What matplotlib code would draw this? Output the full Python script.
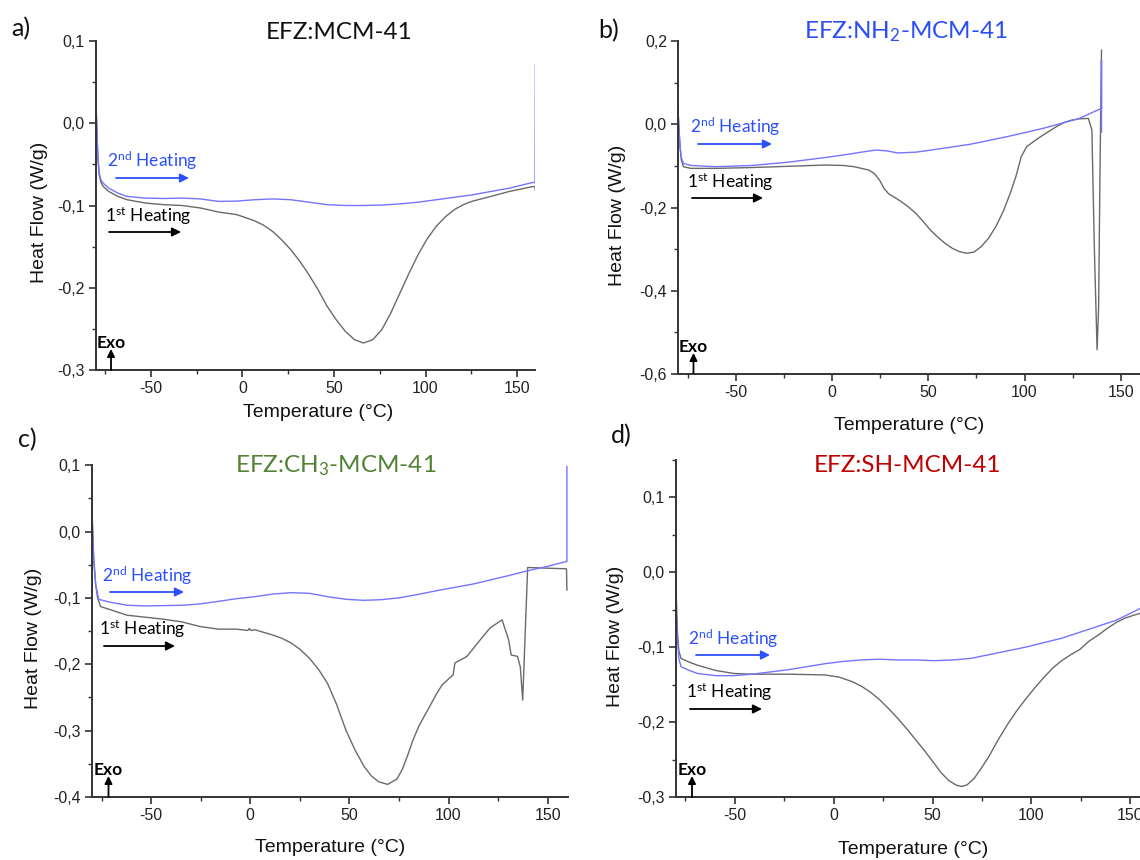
import matplotlib
matplotlib.use("Agg")
import matplotlib.pyplot as plt
from matplotlib.patches import FancyArrowPatch
from matplotlib.ticker import MultipleLocator, FuncFormatter

# ---------------- data (Temperature in °C, heat flow in W/g) ----------------
# a) EFZ:MCM-41
a_t1 = [-80, -79.5, -79, -78.3, -77.3, -76, -73, -68, -63, -53, -43, -33, -23, -13, -3.4,
        0, 6.6, 11.5, 16.5, 21.4, 26.4, 31.4, 36.3, 41.3, 46.3, 51.2, 56.2, 61.2, 66.1,
        71.1, 76.1, 81, 86, 91, 95.9, 100.9, 105.9, 110.8, 115.8, 120.8, 125.7, 135.6,
        145.6, 158.5, 159.8, 160]
a_h1 = [0.025, -0.01, -0.04, -0.062, -0.072, -0.077, -0.083, -0.089, -0.093, -0.097,
        -0.099, -0.100, -0.103, -0.108, -0.111, -0.1134, -0.1186, -0.1239, -0.1316,
        -0.1417, -0.1538, -0.1680, -0.1842, -0.2024, -0.2227, -0.2389, -0.2530, -0.2632,
        -0.2672, -0.2632, -0.2510, -0.2308, -0.2065, -0.1822, -0.1599, -0.1405, -0.1251,
        -0.1138, -0.1049, -0.0988, -0.0947, -0.089, -0.083, -0.077, -0.077, -0.082]
a_t2 = [-80, -79.5, -79, -78.3, -77.3, -76, -73, -68, -63, -53, -43, -33, -23, -13, -3.4,
        6.6, 16.5, 26.4, 36.3, 46.3, 56.2, 66.1, 76.1, 86, 95.9, 105.9, 115.8, 125.7,
        135.6, 145.6, 158.5, 159.8, 160]
a_h2 = [0.025, -0.01, -0.04, -0.060, -0.069, -0.073, -0.079, -0.085, -0.089, -0.091,
        -0.0915, -0.091, -0.092, -0.095, -0.0947, -0.093, -0.092, -0.093, -0.096, -0.099,
        -0.100, -0.100, -0.0995, -0.098, -0.096, -0.093, -0.090, -0.087, -0.083, -0.079,
        -0.072, -0.072, 0.071]

# b) EFZ:NH2-MCM-41
b_t1 = [-80, -79.5, -79, -78.3, -77.2, -73.4, -60.4, -41.5, -22.5, -3.6, 5.8, 11.5, 15.3,
        19.1, 21.9, 24.7, 27, 29.4, 32.3, 36, 39.8, 43.6, 47.4, 51.1, 54.9, 58.7, 62.5,
        66.2, 70, 73.8, 77.5, 81.3, 85.1, 88.9, 92.6, 95.5, 98.3, 101.1, 105.8, 109.6,
        113.4, 117.2, 121, 124.7, 128.5, 133.2, 135, 136.3, 137.7, 138.5, 139.2, 140]
b_h1 = [0.034, -0.01, -0.05, -0.085, -0.102, -0.106, -0.106, -0.104, -0.101, -0.098,
        -0.099, -0.102, -0.106, -0.110, -0.118, -0.134, -0.154, -0.167, -0.175, -0.186,
        -0.199, -0.214, -0.234, -0.254, -0.271, -0.286, -0.298, -0.306, -0.310, -0.307,
        -0.294, -0.274, -0.246, -0.210, -0.166, -0.126, -0.078, -0.054, -0.038, -0.026,
        -0.015, -0.004, 0.005, 0.010, 0.013, 0.014, -0.014, -0.30, -0.542, -0.44, -0.12,
        0.178]
b_t2 = [-80, -79.5, -79, -78.3, -77.2, -73.4, -60.4, -41.5, -22.5, -3.6, 5.8, 15.3,
        22.8, 28.5, 34.2, 43.6, 53, 71.9, 90.8, 109.6, 128.5, 139.4, 140, 140, 140]
b_h2 = [0.034, -0.01, -0.05, -0.080, -0.094, -0.099, -0.102, -0.099, -0.091, -0.080,
        -0.074, -0.067, -0.062, -0.064, -0.069, -0.067, -0.061, -0.048, -0.030, -0.010,
        0.014, 0.037, 0.037, 0.154, -0.019]

# c) EFZ:CH3-MCM-41
c_t1 = [-80, -79.5, -79, -78, -77, -75.5, -71.3, -62.1, -52.9, -43.8, -34.6, -25.4,
        -15.9, -6.8, -1.3, -0.5, 0.3, 2.4, 7, 11.5, 16.1, 20.7, 25.3, 29.9, 34.5, 39,
        43.6, 48.2, 52.8, 57.4, 61, 64.7, 69.3, 73.9, 76.6, 79.4, 82.1, 84.9, 87.6, 90.4,
        94, 96.8, 100.4, 102.3, 103.2, 109.3, 116, 121, 127, 130.3, 131.6, 134.8, 136.2,
        137.4, 139.9, 149, 159.1, 159.5, 159.7]
c_h1 = [0.043, 0.0, -0.04, -0.08, -0.10, -0.113, -0.117, -0.126, -0.129, -0.132, -0.136,
        -0.143, -0.147, -0.147, -0.149, -0.146, -0.149, -0.148, -0.152, -0.156, -0.161,
        -0.168, -0.178, -0.191, -0.208, -0.229, -0.261, -0.299, -0.329, -0.354, -0.368,
        -0.377, -0.381, -0.373, -0.359, -0.337, -0.314, -0.294, -0.279, -0.264, -0.244,
        -0.231, -0.221, -0.216, -0.198, -0.188, -0.163, -0.145, -0.133, -0.163, -0.186,
        -0.188, -0.204, -0.254, -0.054, -0.055, -0.056, -0.056, -0.088]
c_t2 = [-80, -79.5, -79, -78, -76.5, -71.3, -62.1, -52.9, -43.8, -34.6, -25.4, -15.9,
        -6.8, 2.4, 11.5, 20.7, 29.9, 39, 48.2, 57.4, 66.5, 75.7, 84.9, 94, 103.2, 112.4,
        121.5, 130.7, 139.9, 149, 159.5, 159.7, 159.7]
c_h2 = [0.043, 0.0, -0.04, -0.08, -0.102, -0.106, -0.111, -0.112, -0.1115, -0.111,
        -0.109, -0.105, -0.101, -0.098, -0.094, -0.092, -0.093, -0.098, -0.102, -0.1035,
        -0.1025, -0.0995, -0.0945, -0.089, -0.084, -0.079, -0.0725, -0.066, -0.059,
        -0.053, -0.045, -0.045, 0.098]

# d) EFZ:SH-MCM-41
d_t1 = [-80, -79.5, -79, -78.3, -77.2, -73, -68.9, -59.7, -50.6, -41.4, -22.8, -4.4, 2.9,
        9.4, 14, 18.6, 23.2, 27.8, 32.4, 37, 41.6, 46.2, 50.8, 54.5, 58.2, 61.9, 64.6,
        67.4, 71.1, 74.8, 78.5, 83.1, 87.7, 92.3, 96.9, 101.5, 106.1, 110.7, 115.3, 119.9,
        124.5, 129.1, 133.7, 138.3, 142.9, 147.5, 152.1, 156]
d_h1 = [-0.001, -0.04, -0.08, -0.105, -0.115, -0.120, -0.124, -0.131, -0.135, -0.136,
        -0.136, -0.137, -0.140, -0.146, -0.152, -0.160, -0.170, -0.182, -0.195, -0.209,
        -0.224, -0.239, -0.255, -0.268, -0.278, -0.284, -0.286, -0.284, -0.275, -0.261,
        -0.246, -0.224, -0.204, -0.186, -0.170, -0.155, -0.141, -0.128, -0.118, -0.110,
        -0.103, -0.092, -0.084, -0.075, -0.067, -0.061, -0.057, -0.054]
d_t2 = [-80, -79.5, -79, -78.3, -77.2, -73, -68.9, -59.7, -50.6, -41.4, -32, -22.8, -13.6,
        -4.4, 4.8, 14, 23.2, 32.4, 41.6, 50.8, 60, 69.2, 78.5, 87.7, 96.9, 106.1, 115.3,
        124.5, 133.7, 142.9, 156]
d_h2 = [-0.028, -0.06, -0.09, -0.115, -0.126, -0.131, -0.135, -0.138, -0.138, -0.136,
        -0.133, -0.130, -0.126, -0.122, -0.119, -0.117, -0.116, -0.117, -0.117, -0.118,
        -0.117, -0.115, -0.110, -0.105, -0.100, -0.094, -0.088, -0.080, -0.072, -0.064,
        -0.047]

panel_tags = ["a)", "b)", "c)", "d)"]
panel_titles = ["EFZ:MCM-41", r"EFZ:NH$_{\mathrm{2}}$-MCM-41",
                r"EFZ:CH$_{\mathrm{3}}$-MCM-41", "EFZ:SH-MCM-41"]
title_colors = ["#111111", "#2b4ff5", "#548235", "#c00000"]
y_limits = [(-0.3, 0.1), (-0.6, 0.2), (-0.4, 0.1), (-0.3, 0.15)]
y_major = [0.1, 0.2, 0.1, 0.1]
x_limits = (-80, 160)
x_label = "Temperature (°C)"
y_label = "Heat Flow (W/g)"
first_label = r"1$^{\mathrm{st}}$ Heating"
second_label = r"2$^{\mathrm{nd}}$ Heating"

# ---------------- styling ----------------
W, H = 1140, 860
plt.rcParams["font.family"] = ["Liberation Sans", "DejaVu Sans"]
plt.rcParams["axes.unicode_minus"] = False
plt.rcParams["mathtext.fontset"] = "custom"
plt.rcParams["mathtext.rm"] = "Lato"
plt.rcParams["mathtext.it"] = "Lato:italic"
plt.rcParams["mathtext.bf"] = "Lato:bold"

GRAY = "#6a6a6a"
BLUE_LINE = "#7474ff"
BLUE_TXT = "#2b50ff"
AX_COL = "#333333"
SANS2 = ["Lato", "DejaVu Sans"]

fig = plt.figure(figsize=(W / 100, H / 100), dpi=100)


def fx(x):
    return x / W


def fy(y):
    return 1 - y / H


# pixel boxes of each panel: left, right, top, bottom
boxes = [(96, 535.4, 41, 370), (678, 1140, 41, 374),
         (91.7, 567.5, 465.3, 797), (675.5, 1150, 460, 797)]

# text anchors per panel (pixels)
layout = [
    dict(tag=(21, 29), title=(339, 39), ylab=(39, 212), xlab=(318, 413),
         t2=(107, 167), a2=(116, 189, 178), t1=(105, 222), a1=(109, 181, 232),
         exo=(111, 348, 370, 349)),
    dict(tag=(609, 31), title=(906, 38), ylab=(618, 215), xlab=(909, 425),
         t2=(690, 133), a2=(698, 772, 144), t1=(687, 188), a1=(692, 763, 198),
         exo=(693.5, 352, 373, 353)),
    dict(tag=(27, 440), title=(336, 472), ylab=(33, 638), xlab=(330, 847),
         t2=(102, 582), a2=(110, 184, 592), t1=(99, 635), a1=(104, 175, 646),
         exo=(108.5, 775, 797, 776)),
    dict(tag=(621, 436), title=(908, 472), ylab=(615, 636), xlab=(913, 849),
         t2=(688, 645), a2=(696, 770, 655), t1=(686, 698), a1=(690, 762, 709),
         exo=(692, 775, 797, 776)),
]

series = [(a_t1, a_h1, a_t2, a_h2), (b_t1, b_h1, b_t2, b_h2),
          (c_t1, c_h1, c_t2, c_h2), (d_t1, d_h1, d_t2, d_h2)]

comma = FuncFormatter(lambda v, p: f"{v:.1f}".replace(".", ",").replace("-0,0", "0,0"))


def arrow(p0, p1, color, scale):
    fig.add_artist(FancyArrowPatch(
        (fx(p0[0]), fy(p0[1])), (fx(p1[0]), fy(p1[1])), transform=fig.transFigure,
        arrowstyle="-|>", mutation_scale=scale, lw=1.3, color=color,
        shrinkA=0, shrinkB=0))


for i in range(4):
    left, right, top, bottom = boxes[i]
    ax = fig.add_axes([fx(left), fy(bottom), (right - left) / W, (bottom - top) / H])
    t1, h1, t2, h2 = series[i]
    ax.plot(t1, h1, color=GRAY, lw=1.0, solid_joinstyle="round")
    ax.plot(t2, h2, color=BLUE_LINE, lw=1.0, solid_joinstyle="round")

    ax.set_xlim(*x_limits)
    ax.set_ylim(*y_limits[i])
    for s in ("top", "right"):
        ax.spines[s].set_visible(False)
    for s in ("left", "bottom"):
        ax.spines[s].set_color(AX_COL)
        ax.spines[s].set_linewidth(1.4)
    ax.xaxis.set_major_locator(MultipleLocator(50))
    ax.xaxis.set_minor_locator(MultipleLocator(25))
    ax.yaxis.set_major_locator(MultipleLocator(y_major[i]))
    ax.yaxis.set_minor_locator(MultipleLocator(y_major[i] / 2))
    ax.yaxis.set_major_formatter(comma)
    ax.tick_params(which="major", direction="out", length=5, width=1.2,
                   color=AX_COL, labelsize=11.5, labelcolor="#222222", pad=3)
    ax.tick_params(which="minor", direction="out", length=3, width=1.0, color=AX_COL)

    L = layout[i]
    fig.text(fx(L["tag"][0]), fy(L["tag"][1]), panel_tags[i], fontsize=18,
             family=SANS2, ha="center", va="center", color="#111111")
    fig.text(fx(L["title"][0]), fy(L["title"][1]), panel_titles[i], fontsize=17.5,
             family=SANS2, ha="center", va="baseline", color=title_colors[i])
    fig.text(fx(L["ylab"][0]), fy(L["ylab"][1]), y_label, fontsize=14, rotation=90,
             ha="center", va="center", color="#111111")
    fig.text(fx(L["xlab"][0]), fy(L["xlab"][1]), x_label, fontsize=14,
             ha="center", va="center", color="#111111")

    fig.text(fx(L["t2"][0]), fy(L["t2"][1]), second_label, fontsize=12.5,
             family=SANS2, ha="left", va="baseline", color=BLUE_TXT)
    fig.text(fx(L["t1"][0]), fy(L["t1"][1]), first_label, fontsize=12.5,
             family=SANS2, ha="left", va="baseline", color="#000000")
    x0, x1, y = L["a2"]
    arrow((x0, y), (x1, y), BLUE_TXT, 13)
    x0, x1, y = L["a1"]
    arrow((x0, y), (x1, y), "#000000", 13)

    ex, eb, ay0, ay1 = L["exo"]
    fig.text(fx(ex), fy(eb), "Exo", fontsize=12.5, family=SANS2, weight="bold",
             ha="center", va="baseline", color="#000000")
    arrow((ex, ay0), (ex, ay1), "#000000", 11)

fig.savefig("out.png", dpi=100, facecolor="white")
